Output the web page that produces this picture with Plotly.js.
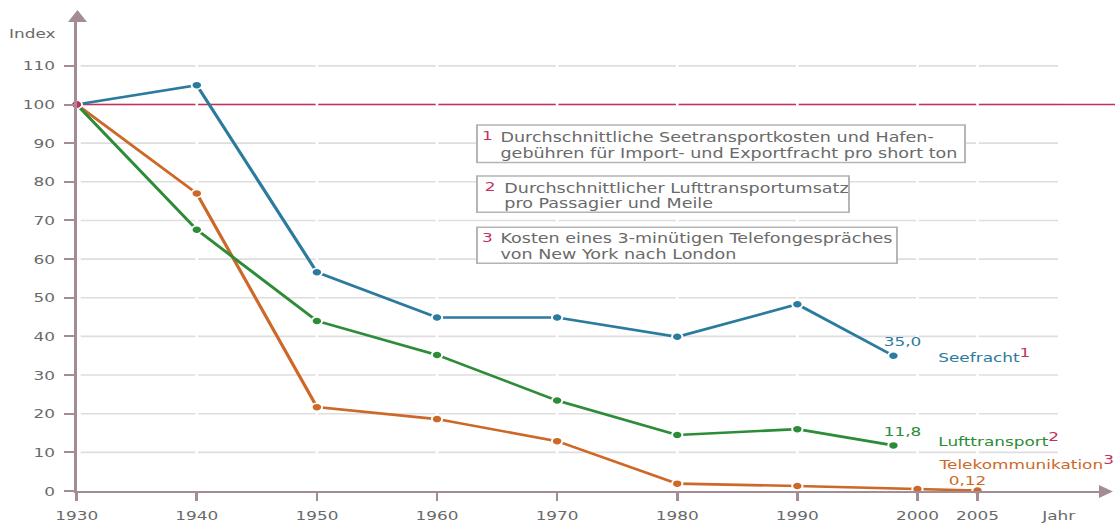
<!DOCTYPE html>
<html><head><meta charset="utf-8">
<script src="https://cdn.plot.ly/plotly-3.0.1.min.js"></script>
<style>
html,body{margin:0;padding:0;background:#fff;overflow:hidden;}
#chart{width:858px;height:523px;transform:scaleX(1.2995);transform-origin:0 0;}
</style></head>
<body><div id="chart"></div>
<script>
// ---------- data ----------
const seaYears = [1930, 1940, 1950, 1960, 1970, 1980, 1990, 1998];
const seefracht = [100, 105, 56.6, 44.9, 44.9, 39.9, 48.3, 35.0];
const airYears = [1930, 1940, 1950, 1960, 1970, 1980, 1990, 1998];
const lufttransport = [100, 67.6, 44.0, 35.2, 23.4, 14.5, 16.0, 11.8];
const telYears = [1930, 1940, 1950, 1960, 1970, 1980, 1990, 2000, 2005];
const telekommunikation = [100, 77.0, 21.7, 18.6, 12.9, 1.9, 1.3, 0.5, 0.12];
const baseIndex = 100;
const xTicks = [1930, 1940, 1950, 1960, 1970, 1980, 1990, 2000, 2005];
const yTicks = [0, 10, 20, 30, 40, 50, 60, 70, 80, 90, 100, 110];
const seriesNames = ['Seefracht', 'Lufttransport', 'Telekommunikation'];
const noteNums = ['1', '2', '3'];
const noteLines = [
  ['Durchschnittliche Seetransportkosten und Hafen-', 'gebühren für Import- und Exportfracht pro short ton'],
  ['Durchschnittlicher Lufttransportumsatz', 'pro Passagier und Meile'],
  ['Kosten eines 3-minütigen Telefongespräches', 'von New York nach London']
];
const axisTitleY = 'Index';
const axisTitleX = 'Jahr';

// ---------- styles / geometry ----------
const FONT = 'DejaVu Sans';
const C_SEA = '#2b7b9e', C_AIR = '#2d8c38', C_TEL = '#cd6828';
const C_RED = '#c4305a', C_AX = '#a38c94', C_GRID = '#dedede', C_TXT = '#6a6a6a';
const S = 1115 / 858;
const W = 858, H = 523;
const M = {l: 59, r: 12, t: 20, b: 32};
const PW = W - M.l - M.r, PH = H - M.t - M.b;
const PXYEAR = 9.243, PXUNIT = 3.865;
function px(xs) { return (xs / S - M.l) / PW; }   // page x (scaled) -> paper
function py(ys) { return (H - M.b - ys) / PH; }   // page y -> paper

const fmt = (v, d) => v.toFixed(d).replace('.', ',');
const last = a => a[a.length - 1];

function lineTrace(x, y, color) {
  return {
    type: 'scatter', mode: 'lines+markers', x: x, y: y, cliponaxis: false,
    line: {color: color, width: 2.6},
    marker: {color: color, size: 8, line: {color: '#fff', width: 1.5}},
    hoverinfo: 'skip'
  };
}
const data = [
  lineTrace(telYears, telekommunikation, C_TEL),
  lineTrace(airYears, lufttransport, C_AIR),
  lineTrace(seaYears, seefracht, C_SEA),
  {type: 'scatter', mode: 'markers', x: [seaYears[0]], y: [baseIndex], cliponaxis: false,
   marker: {color: C_RED, size: 8, line: {color: '#fff', width: 1}}, hoverinfo: 'skip'}
];

// ---------- shapes ----------
const shapes = [];
yTicks.filter(v => v > 0).forEach(v => shapes.push({
  type: 'line', layer: 'below', xref: 'paper', yref: 'y', x0: 0.004, x1: px(1058), y0: v, y1: v,
  line: {color: C_GRID, width: 1.6}
}));
shapes.push({type: 'line', layer: 'below', xref: 'paper', yref: 'y', x0: 0, x1: 1.03,
  y0: baseIndex, y1: baseIndex, line: {color: C_RED, width: 1.4}});
xTicks.slice(1).forEach(t => shapes.push({
  type: 'line', layer: 'below', xref: 'x', yref: 'y', x0: t, x1: t, y0: 0.4, y1: 112,
  line: {color: '#ffffff', width: 2}
}));
// arrow heads
shapes.push({type: 'path', xref: 'paper', yref: 'paper', layer: 'above',
  path: `M ${px(68)},${py(22)} L ${px(77.5)},${py(10)} L ${px(87)},${py(22)} Z`,
  fillcolor: C_AX, line: {width: 0}});
shapes.push({type: 'path', xref: 'paper', yref: 'paper', layer: 'above',
  path: `M ${px(1099)},${py(485)} L ${px(1113)},${py(491.5)} L ${px(1099)},${py(498)} Z`,
  fillcolor: C_AX, line: {width: 0}});

// note boxes
const boxes = [
  {x0: 477, x1: 965, y0: 125, y1: 162.5, nx: 487.5, ny: 135.5, tx: 498, ly: [137, 152.5]},
  {x0: 477, x1: 849, y0: 176, y1: 212.3, nx: 489.5, ny: 186, tx: 501, ly: [187.5, 203]},
  {x0: 477, x1: 897, y0: 227.3, y1: 263.3, nx: 487, ny: 237.5, tx: 498, ly: [238.3, 253.8]}
];
const annotations = [];
boxes.forEach((b, i) => {
  shapes.push({type: 'rect', xref: 'paper', yref: 'paper', layer: 'above',
    x0: px(b.x0), x1: px(b.x1), y0: py(b.y1), y1: py(b.y0),
    fillcolor: '#ffffff', line: {color: '#b4b4b4', width: 1.5}});
  annotations.push({xref: 'paper', yref: 'paper', x: px(b.nx), y: py(b.ny), xanchor: 'center', yanchor: 'middle',
    text: noteNums[i], showarrow: false, font: {family: FONT, size: 13, color: C_RED}});
  noteLines[i].forEach((t, k) => annotations.push({
    xref: 'paper', yref: 'paper', x: px(b.tx), y: py(b.ly[k]), xanchor: 'left', yanchor: 'middle',
    text: t, showarrow: false, font: {family: FONT, size: 13.5, color: C_TXT}}));
});

// value labels at series ends
annotations.push({x: last(seaYears), y: last(seefracht), xshift: 7, yshift: 14, text: fmt(last(seefracht), 1),
  showarrow: false, font: {family: FONT, size: 13, color: C_SEA}});
annotations.push({x: last(airYears), y: last(lufttransport), xshift: 7, yshift: 14, text: fmt(last(lufttransport), 1),
  showarrow: false, font: {family: FONT, size: 13, color: C_AIR}});
annotations.push({x: last(telYears), y: last(telekommunikation), xshift: -8, yshift: 10, text: fmt(last(telekommunikation), 2),
  showarrow: false, font: {family: FONT, size: 13, color: C_TEL}});

// series names
const nameCols = [C_SEA, C_AIR, C_TEL];
const nameY = [355, 439, 462];
seriesNames.forEach((n, i) => annotations.push({
  xref: 'paper', yref: 'paper', x: px(936), y: py(nameY[i]), xanchor: 'left', yanchor: 'middle',
  text: n + `<sup><span style="color:${C_RED};font-size:13px">${noteNums[i]}</span></sup>`,
  showarrow: false, font: {family: FONT, size: 13, color: nameCols[i]}}));

// axis titles
annotations.push({xref: 'paper', yref: 'paper', x: px(33), y: py(33), xanchor: 'center', yanchor: 'middle',
  text: axisTitleY, showarrow: false, font: {family: FONT, size: 13, color: C_TXT}});
annotations.push({xref: 'paper', yref: 'paper', x: px(1058), y: py(515), xanchor: 'center', yanchor: 'middle',
  text: axisTitleX, showarrow: false, font: {family: FONT, size: 13, color: C_TXT}});

const layout = {
  width: W, height: H, margin: M, showlegend: false,
  paper_bgcolor: '#fff', plot_bgcolor: '#fff',
  font: {family: FONT, size: 13, color: C_TXT},
  xaxis: {
    range: [1930, 1930 + PW / PXYEAR], tickvals: xTicks, ticktext: xTicks.map(String),
    showgrid: false, zeroline: false, showline: true, linecolor: C_AX, linewidth: 2,
    ticks: 'outside', ticklen: 8, tickwidth: 2, tickcolor: C_AX, ticklabelstandoff: 3,
    tickfont: {family: FONT, size: 13, color: C_TXT}, fixedrange: true
  },
  yaxis: {
    range: [0, PH / PXUNIT], tickvals: yTicks, ticktext: yTicks.map(String),
    showgrid: false, zeroline: false, showline: true, linecolor: C_AX, linewidth: 2,
    ticks: 'outside', ticklen: 8, tickwidth: 2, tickcolor: C_AX, ticklabelstandoff: 4,
    tickfont: {family: FONT, size: 13, color: C_TXT}, fixedrange: true
  },
  shapes: shapes, annotations: annotations
};
Plotly.newPlot('chart', data, layout, {staticPlot: true, displayModeBar: false});
</script>
</body></html>
